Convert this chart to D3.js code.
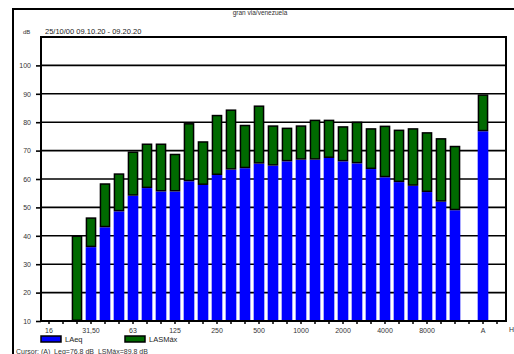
<!DOCTYPE html>
<html>
<head>
<meta charset="utf-8">
<script src="https://cdn.jsdelivr.net/npm/d3@7"></script>
<style>
  body { margin: 0; background: #fff; }
  svg { display: block; font-family: "Liberation Sans", Arial, sans-serif; }
  text { white-space: pre; }
</style>
</head>
<body>
<div id="chart"></div>
<script>
// third-octave bands, then the A-weighted total and a spare slot
var bands = ["16", "20", "25", "31,50", "40", "50", "63", "80", "100", "125", "160", "200",
  "250", "315", "400", "500", "630", "800", "1000", "1250", "1600", "2000", "2500", "3150",
  "4000", "5000", "6300", "8000", "10000", "12500", "16000", "A", "-"];

var laeq = [null, null, null, 36.0, 43.0, 48.6, 54.1, 56.8, 55.6, 55.6, 59.2, 57.9,
  61.4, 63.3, 63.8, 65.4, 64.7, 66.2, 66.8, 66.8, 67.4, 66.2, 65.5, 63.5,
  60.6, 58.9, 57.6, 55.4, 52.0, 49.0, null, 76.8, null];

var lasmax = [10.3, 10.3, 40.1, 46.5, 58.5, 62.0, 69.7, 72.5, 72.5, 68.9, 79.7, 73.3,
  82.6, 84.5, 79.1, 85.9, 78.9, 78.1, 78.9, 80.9, 80.9, 78.6, 80.2, 77.9,
  78.8, 77.4, 77.9, 76.5, 74.4, 71.7, 10.3, 89.8, null];

var tickLabels = ["16", "31,50", "63", "125", "250", "500", "1000", "2000", "4000", "8000", "A"];
var yTicks = [10, 20, 30, 40, 50, 60, 70, 80, 90, 100];

var title = "gran via/venezuela";
var subtitle = "25/10/00 09.10.20 - 09.20.20";
var cursorText = "Cursor: (A)  Leq=76.8 dB  LSMáx=89.8 dB";

var W = 514, H = 354;
var plot = { left: 41, top: 37, right: 506, bottom: 321 };

var svg = d3.select("#chart").append("svg")
  .attr("width", W).attr("height", H);

// outer frame (runs off the right and bottom of the picture)
svg.append("rect")
  .attr("x", 13).attr("y", 9)
  .attr("width", 520).attr("height", 360)
  .attr("fill", "none").attr("stroke", "#000").attr("stroke-width", 2);

svg.append("text")
  .attr("x", 260).attr("y", 15)
  .attr("text-anchor", "middle")
  .attr("font-size", 6.5).attr("fill", "#333")
  .text(title);

svg.append("text")
  .attr("x", 23).attr("y", 34)
  .attr("font-size", 6).attr("fill", "#333")
  .text("dB");

svg.append("text")
  .attr("x", 45).attr("y", 34)
  .attr("font-size", 7.5).attr("fill", "#222")
  .text(subtitle);

var x = d3.scaleBand().domain(bands).range([42, 504]).paddingInner(0.24).paddingOuter(0.12);
var y = d3.scaleLinear().domain([10, 110]).range([plot.bottom, plot.top]);

// grid lines
svg.append("g").selectAll("line").data(yTicks).join("line")
  .attr("x1", plot.left).attr("x2", plot.right)
  .attr("y1", function (d) { return y(d); }).attr("y2", function (d) { return y(d); })
  .attr("stroke", "#000").attr("stroke-width", 1.6);

var yAxis = svg.append("g")
  .attr("transform", "translate(" + plot.left + ",0)")
  .call(d3.axisLeft(y).tickValues(yTicks).tickSize(5).tickPadding(5));
yAxis.select(".domain").remove();
yAxis.selectAll("line").attr("stroke", "#000").attr("stroke-width", 1.6);
yAxis.selectAll("text").attr("font-size", 7).attr("fill", "#333")
  .attr("font-family", "Liberation Sans, Arial, sans-serif");

var rows = bands.map(function (b, i) {
  return { band: b, leq: laeq[i], max: lasmax[i] };
});

// LAeq bars
svg.append("g").selectAll("rect")
  .data(rows.filter(function (d) { return d.leq != null; }))
  .join("rect")
  .attr("x", function (d) { return x(d.band); })
  .attr("width", x.bandwidth())
  .attr("y", function (d) { return y(d.leq); })
  .attr("height", function (d) { return y(10) - y(d.leq); })
  .attr("fill", "#0000ff");

// LASMax part on top of LAeq
svg.append("g").selectAll("rect")
  .data(rows.filter(function (d) { return d.max != null; }))
  .join("rect")
  .attr("x", function (d) { return x(d.band) + 0.75; })
  .attr("width", x.bandwidth() - 1.5)
  .attr("y", function (d) { return y(d.max) + 0.75; })
  .attr("height", function (d) {
    var base = d.leq != null ? d.leq : 10;
    return Math.max(0, y(base) - y(d.max) - 1.5);
  })
  .attr("fill", "#006a00")
  .attr("stroke", "#000").attr("stroke-width", 1.5);

// plot frame
svg.append("rect")
  .attr("x", plot.left).attr("y", plot.top)
  .attr("width", plot.right - plot.left).attr("height", plot.bottom - plot.top)
  .attr("fill", "none").attr("stroke", "#000").attr("stroke-width", 2);

var xAxis = svg.append("g")
  .attr("transform", "translate(0," + plot.bottom + ")")
  .call(d3.axisBottom(x).tickSize(3).tickPadding(4)
    .tickFormat(function (d) { return tickLabels.indexOf(d) >= 0 ? d : ""; }));
xAxis.select(".domain").remove();
xAxis.selectAll("line").attr("stroke", "#000").attr("stroke-width", 1.5);
xAxis.selectAll("text").attr("font-size", 7).attr("fill", "#333")
  .attr("font-family", "Liberation Sans, Arial, sans-serif");

svg.append("text")
  .attr("x", 509).attr("y", 332)
  .attr("font-size", 7).attr("fill", "#333")
  .text("Hz");

// legend
var legend = [
  { label: "LAeq", color: "#0000ff", x: 41 },
  { label: "LASMáx", color: "#006a00", x: 125 }
];
var lg = svg.append("g").selectAll("g").data(legend).join("g")
  .attr("transform", function (d) { return "translate(" + d.x + ",336)"; });
lg.append("rect")
  .attr("width", 20).attr("height", 6)
  .attr("fill", function (d) { return d.color; })
  .attr("stroke", "#000").attr("stroke-width", 1.5);
lg.append("text")
  .attr("x", 24).attr("y", 6)
  .attr("font-size", 7.5).attr("fill", "#222")
  .text(function (d) { return d.label; });

svg.append("text")
  .attr("x", 16).attr("y", 354)
  .attr("font-size", 7).attr("fill", "#333")
  .text(cursorText);
</script>
</body>
</html>
